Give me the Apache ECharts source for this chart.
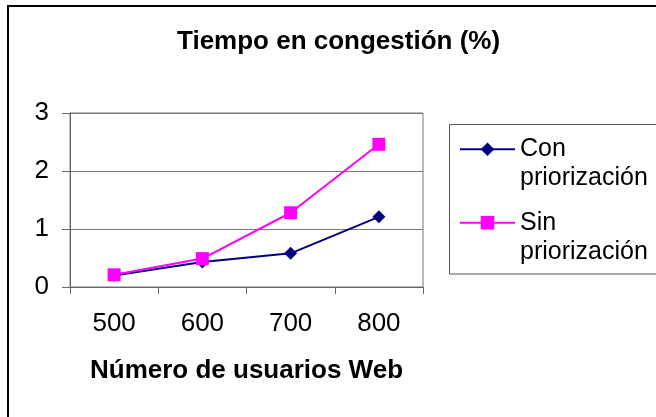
<!DOCTYPE html>
<html>
<head>
<meta charset="utf-8">
<script src="https://cdn.jsdelivr.net/npm/echarts@6/dist/echarts.min.js"></script>
<style>
html,body{margin:0;padding:0;background:#fff;}
#chart{width:656px;height:417px;}
</style>
</head>
<body>
<div id="chart"></div>
<script>
const categories = ['500', '600', '700', '800'];
const conPriorizacion = [0.20, 0.43, 0.58, 1.21];
const sinPriorizacion = [0.21, 0.49, 1.28, 2.46];
const seriesNames = ['Con priorización', 'Sin priorización'];
const titleText = 'Tiempo en congestión (%)';
const xAxisName = 'Número de usuarios Web';

const FONT = '"Liberation Sans", Arial, sans-serif';
const chart = echarts.init(document.getElementById('chart'), null, {renderer: 'canvas'});

function legendFor(name, top) {
  return {
    data: [name],
    left: 459,
    top: top,
    orient: 'vertical',
    padding: 0,
    itemWidth: 55,
    itemHeight: 17,
    selectedMode: false,
    formatter: n => '\n' + n.split(' ').join('\n'),
    textStyle: {fontFamily: FONT, fontSize: 25, color: '#000', lineHeight: 29, padding: [0, 0, 6, 0]}
  };
}

chart.setOption({
  animation: false,
  backgroundColor: '#fff',
  title: {
    text: titleText,
    left: 177,
    top: 29,
    padding: 0,
    textStyle: {fontFamily: FONT, fontSize: 26, fontWeight: 'bold', color: '#000'}
  },
  graphic: [
    {type: 'rect', shape: {x: 8, y: 6, width: 800, height: 600}, style: {fill: 'none', stroke: '#000', lineWidth: 2}, silent: true, z: -1},
    {type: 'rect', shape: {x: 449.5, y: 124.5, width: 400, height: 149.5}, style: {fill: 'none', stroke: '#555', lineWidth: 1}, silent: true, z: -1}
  ],
  legend: [legendFor(seriesNames[0], 102.8), legendFor(seriesNames[1], 176.2)],
  grid: {left: 70, top: 113, right: 233, bottom: 130, show: true, borderColor: '#777', borderWidth: 1, backgroundColor: 'transparent'},
  xAxis: {
    type: 'category',
    data: categories,
    boundaryGap: true,
    axisLine: {lineStyle: {color: '#666', width: 1}},
    axisTick: {show: true, length: 7, lineStyle: {color: '#666'}},
    axisLabel: {fontFamily: FONT, fontSize: 26, color: '#000', margin: 24},
    name: xAxisName,
    nameLocation: 'middle',
    nameGap: 71,
    nameTextStyle: {fontFamily: FONT, fontSize: 26, fontWeight: 'bold', color: '#000'}
  },
  yAxis: {
    type: 'value',
    min: 0,
    max: 3,
    interval: 1,
    axisLine: {show: true, lineStyle: {color: '#666', width: 1}},
    axisTick: {show: true, length: 8, lineStyle: {color: '#666'}},
    axisLabel: {fontFamily: FONT, fontSize: 26, color: '#000', margin: 21},
    splitLine: {lineStyle: {color: '#777', width: 1}}
  },
  series: [
    {
      name: seriesNames[0],
      type: 'line',
      data: conPriorizacion,
      symbol: 'diamond',
      symbolSize: 13,
      itemStyle: {color: '#000080'},
      lineStyle: {color: '#000080', width: 2}
    },
    {
      name: seriesNames[1],
      type: 'line',
      data: sinPriorizacion,
      symbol: 'rect',
      symbolSize: 13,
      itemStyle: {color: '#FF00FF'},
      lineStyle: {color: '#FF00FF', width: 2}
    }
  ]
});
</script>
</body>
</html>
